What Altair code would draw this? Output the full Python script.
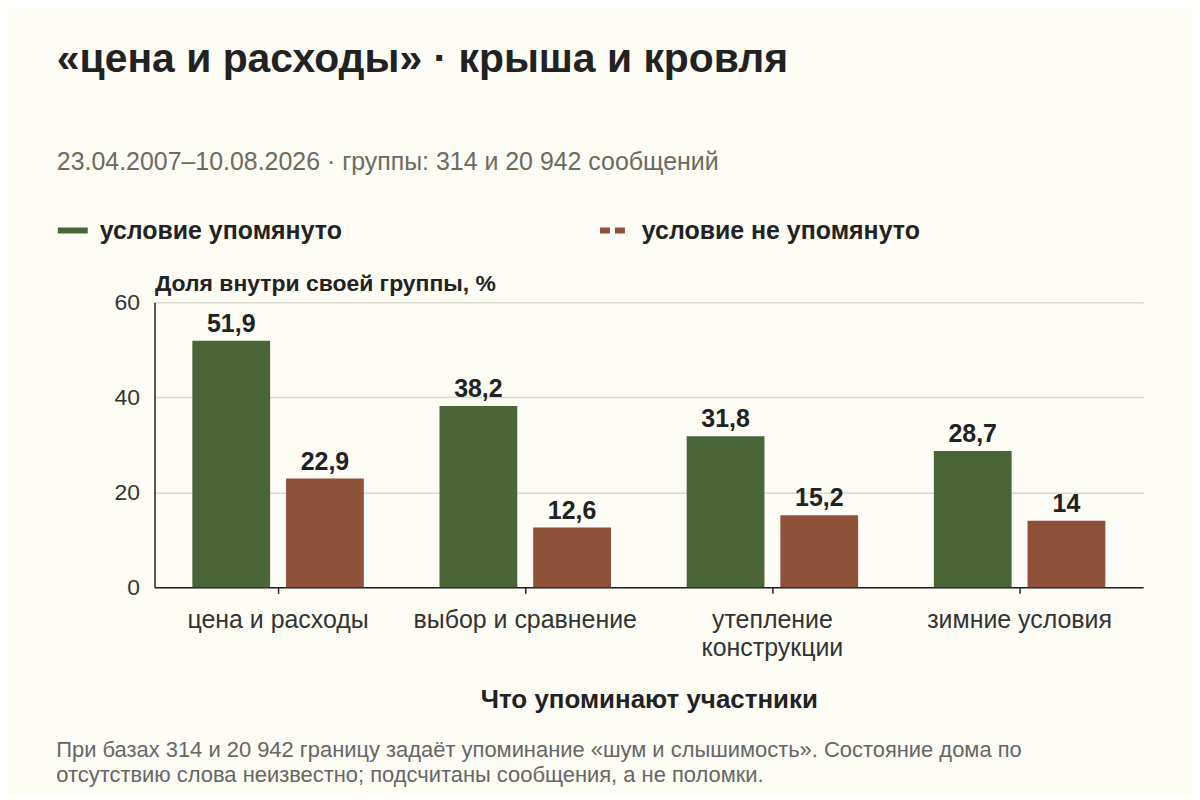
import altair as alt
import pandas as pd

categories = ["цена и расходы", "выбор и сравнение", "утепление конструкции", "зимние условия"]
mentioned = [51.9, 38.2, 31.8, 28.7]
not_mentioned = [22.9, 12.6, 15.2, 14.0]
groups = ["условие упомянуто", "условие не упомянуто"]
colors = ["#4a6638", "#8e513a"]
dashes = [[1, 0], [10, 5]]

title_text = "«цена и расходы» · крыша и кровля"
subtitle_text = "23.04.2007–10.08.2026 · группы: 314 и 20 942 сообщений"
footer_lines = [
    "При базах 314 и 20 942 границу задаёт упоминание «шум и слышимость». Состояние дома по",
    "отсутствию слова неизвестно; подсчитаны сообщения, а не поломки.",
]

rows = []
for c, a, b in zip(categories, mentioned, not_mentioned):
    for g, v in zip(groups, [a, b]):
        rows.append({"cat": c, "group": g, "value": v, "label": f"{v:g}".replace(".", ",")})
df = pd.DataFrame(rows)

legend = alt.Legend(
    orient="none", legendX=-100, legendY=-90, direction="horizontal",
    symbolType="stroke", symbolSize=900, symbolStrokeWidth=6,
    labelFontSize=25, labelFontWeight="bold", labelColor="#222222",
    labelOffset=9, columnPadding=246, labelLimit=600, title=None,
)

base = alt.Chart(df).encode(
    x=alt.X(
        "cat:N", sort=categories, title="Что упоминают участники",
        scale=alt.Scale(paddingInner=0, paddingOuter=0),
        axis=alt.Axis(
            labelAngle=0, domainColor="#222222", domainWidth=1.5,
            tickColor="#222222", tickSize=6, tickWidth=1.5,
            labelFontSize=25, labelColor="#333333", labelPadding=14,
            labelLineHeight=28, labelLimit=400,
            labelExpr="datum.label == 'утепление конструкции' ? ['утепление', 'конструкции'] : datum.label",
            titleFontSize=26, titleFontWeight="bold", titleColor="#222222",
            titlePadding=27,
        ),
    ),
    xOffset=alt.XOffset("group:N", sort=groups,
                        scale=alt.Scale(paddingInner=0.17, paddingOuter=0.404)),
)

bars = base.mark_bar(strokeWidth=0).encode(
    y=alt.Y(
        "value:Q", title="Доля внутри своей группы, %",
        scale=alt.Scale(domain=[0, 60]),
        axis=alt.Axis(
            values=[0, 20, 40, 60], grid=True, gridColor="#dcd9d0", gridWidth=1.5,
            domainColor="#222222", domainWidth=1.5, ticks=False,
            labelFontSize=23, labelColor="#333333", labelPadding=15,
            titleAngle=0, titleAlign="left", titleBaseline="bottom",
            titleX=0, titleY=-7, titleFontSize=23, titleFontWeight="bold",
            titleColor="#222222",
        ),
    ),
    color=alt.Color("group:N", sort=groups, scale=alt.Scale(domain=groups, range=colors), legend=legend),
    stroke=alt.Stroke("group:N", sort=groups, scale=alt.Scale(domain=groups, range=colors), legend=legend),
    strokeDash=alt.StrokeDash("group:N", sort=groups, scale=alt.Scale(domain=groups, range=dashes), legend=legend),
)

labels = base.mark_text(dy=-17, fontSize=25, fontWeight="bold", color="#222222").encode(
    y=alt.Y("value:Q"),
    text=alt.Text("label:N"),
)

inner = alt.layer(bars, labels).properties(
    width=992, height=286,
    title=alt.TitleParams(
        text=footer_lines, orient="bottom", anchor="start", fontSize=22,
        fontWeight="normal", color="#666666", lineHeight=25, offset=27, dx=-58,
    ),
)

chart = alt.vconcat(inner).properties(
    title=alt.TitleParams(
        text=title_text, subtitle=subtitle_text, anchor="start",
        fontSize=41, fontWeight="bold", color="#222222",
        subtitleFontSize=25, subtitleColor="#6b6b60", subtitlePadding=69,
        offset=37, dx=2,
    ),
    padding={"left": 47, "top": 30, "right": 49, "bottom": 8},
).configure(
    background="#fdfcf5", font="Liberation Sans",
).configure_view(stroke=None)

chart.save("out.html", embed_options={"renderer": "svg", "actions": False})
